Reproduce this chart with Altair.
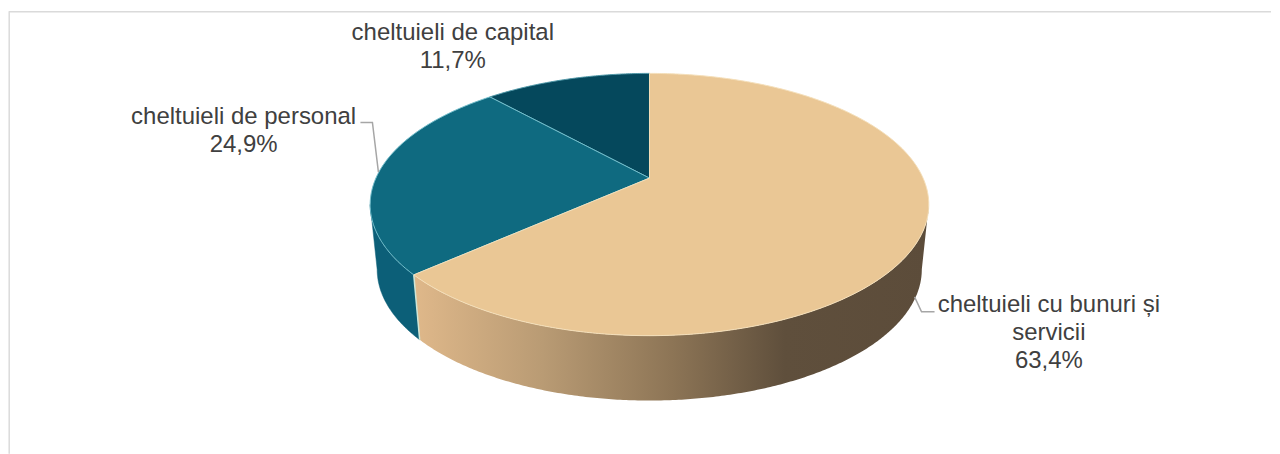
import numpy as np
import altair as alt

# Values
categories = ["cheltuieli cu bunuri și servicii", "cheltuieli de personal", "cheltuieli de capital"]
shares = [63.4, 24.9, 11.7]
top_colors = ["#eac795", "#0f6a80", "#05485c"]
edge_colors = ["#f4dfba", "#74bfcc", "#4f98a8"]
label_lines = [
    ["cheltuieli de capital", "11,7%"],
    ["cheltuieli de personal", "24,9%"],
    ["cheltuieli cu bunuri și", "servicii", "63,4%"],
]
label_xy = [(452.5, 40, 28), (243, 123.7, 28), (1049.5, 311.7, 28.3)]
leaders = [
    [(360, 122.3), (372, 122.3), (378, 172)],
    [(915, 297), (922, 312), (935, 312)],
]

# Perspective view of the pie, in page pixels
OX, OY = 8, 8
CX, CY, A, B, K = 649.5, 178, 274, 126, 0.2016
DEPTH, BOTTOM_X = 65, 0.975


def rim(deg, bottom=False):
    t = np.radians(deg)
    w = 1 + K * np.cos(t)
    x = A * np.sin(t) / w
    y = -B * np.cos(t) / w
    if bottom:
        return CX + BOTTOM_X * x - OX, CY + DEPTH + y - OY
    return CX + x - OX, CY + y - OY


def arc(d0, d1, bottom=False):
    n = max(2, int(abs(d1 - d0) * 2))
    return [list(map(float, rim(d, bottom))) for d in np.linspace(d0, d1, n)]


def feature(kind, coords):
    return {"type": "Feature", "properties": {}, "geometry": {"type": kind, "coordinates": coords}}


def polygon(points):
    return feature("Polygon", [points + [points[0]]])


proj = alt.Projection(type="identity", scale=1, translate=[0, 0], reflectY=False)


def shape(feat, **mark):
    return alt.Chart(alt.Data(values=[feat])).mark_geoshape(**mark).project(**proj.to_dict())


stops = np.cumsum([0] + shares) * 3.6
layers = []

# border
border = "#dadada"
layers.append(alt.Chart(alt.Data(values=[{"a": 0}])).mark_rule(color=border, strokeWidth=1.5).encode(
    x=alt.value(0), x2=alt.value(1264), y=alt.value(3.5)))
layers.append(alt.Chart(alt.Data(values=[{"a": 0}])).mark_rule(color=border, strokeWidth=1.5).encode(
    x=alt.value(0.2), y=alt.value(3), y2=alt.value(446)))

# side walls
wall_gradient = alt.Gradient(
    gradient="linear", x1=0, x2=1, y1=0, y2=0,
    stops=[
        alt.GradientStop(offset=0, color="#dfb88a"),
        alt.GradientStop(offset=0.25, color="#b99b74"),
        alt.GradientStop(offset=0.5, color="#8d7556"),
        alt.GradientStop(offset=0.72, color="#5f4f3c"),
        alt.GradientStop(offset=1, color="#5c4c3a"),
    ],
)
right_turn = np.degrees(np.arccos(-K))
left_turn = 360 - right_turn
layers.append(shape(polygon(arc(stops[1], left_turn) + arc(left_turn, stops[1], True)),
                    fill="#0c5f78", stroke="#0c5f78", strokeWidth=0.5))
layers.append(shape(polygon(arc(right_turn, stops[1]) + arc(stops[1], right_turn, True)),
                    fill=wall_gradient, strokeWidth=0))
layers.append(shape(feature("LineString", [list(map(float, rim(stops[1]))), list(map(float, rim(stops[1], True)))]),
                    filled=False, stroke="#cfe6d6", strokeWidth=1.5))

# top faces, painted back to front
apex = [CX - OX, CY - OY]
for i in (2, 1, 0):
    pts = [apex] + arc(stops[i], stops[i + 1])
    layers.append(shape(polygon(pts), fill=top_colors[i], stroke=edge_colors[i], strokeWidth=1))

# leader lines
for line in leaders:
    coords = [[float(x - OX), float(y - OY)] for x, y in line]
    layers.append(shape(feature("LineString", coords), filled=False, stroke="#a6a6a6", strokeWidth=1.5))

# labels
rows = []
for lines, (x, y, step) in zip(label_lines, label_xy):
    for j, text in enumerate(lines):
        rows.append({"t": text, "px": x - OX, "py": y - OY + j * step})
layers.append(
    alt.Chart(alt.Data(values=rows)).mark_text(
        font="Liberation Sans", fontSize=24, color="#404040", align="center", baseline="alphabetic"
    ).encode(
        text="t:N",
        x=alt.X("px:Q", scale=None),
        y=alt.Y("py:Q", scale=None),
    )
)

chart = alt.layer(*layers).properties(
    width=1264, height=446, padding=0, background="white"
).configure_view(stroke=None)

chart.save("out.html", embed_options={"renderer": "svg", "actions": False})
